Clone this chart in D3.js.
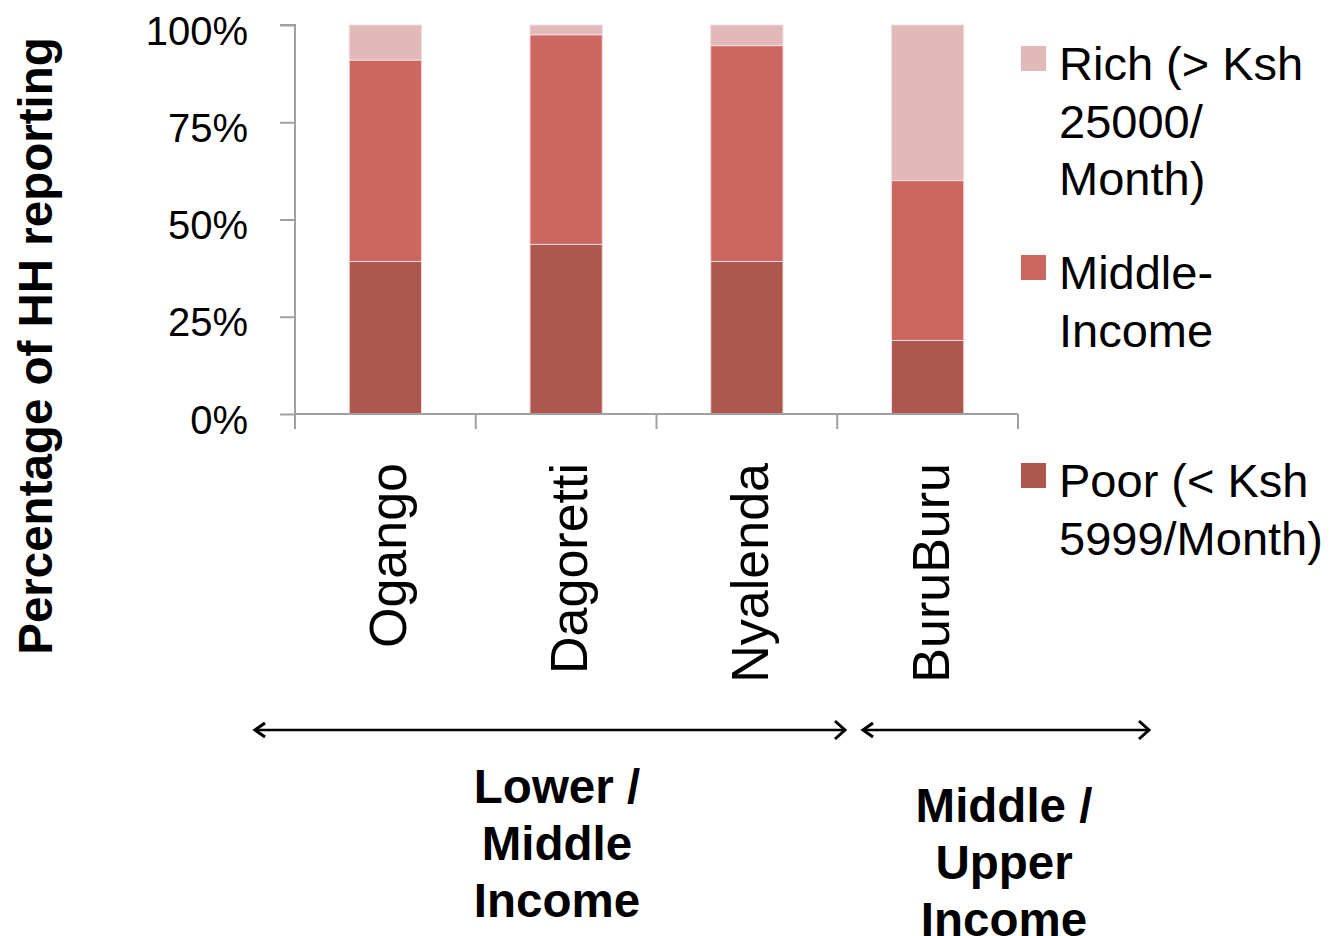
<!DOCTYPE html>
<html>
<head>
<meta charset="utf-8">
<script src="https://cdn.jsdelivr.net/npm/d3@7"></script>
<style>
  body { margin: 0; background: #fff; }
  svg { display: block; font-family: "Liberation Sans", Arial, sans-serif; }
</style>
</head>
<body>
<div id="chart"></div>
<script>
// neighbourhoods along the x axis
const areas = ["Ogango", "Dagoretti", "Nyalenda", "BuruBuru"];
// share of households in each income band (percent)
const poor   = [39.2, 43.6, 39.2, 18.9];
const middle = [51.8, 53.9, 55.5, 41.1];
const rich   = [9.0, 2.5, 5.3, 40.0];
const yTicks = [0, 25, 50, 75, 100];

const seriesKeys = ["poor", "middle", "rich"];
const colors = { poor: "#ae574f", middle: "#cc6660", rich: "#e1b9b8" };
const legendItems = [
  { key: "rich", lines: ["Rich (> Ksh", "25000/", "Month)"] },
  { key: "middle", lines: ["Middle-", "Income"] },
  { key: "poor", lines: ["Poor (< Ksh", "5999/Month)"] }
];
const groups = [
  { from: 255, to: 845, lines: ["Lower /", "Middle", "Income"] },
  { from: 863, to: 1149, lines: ["Middle /", "Upper", "Income"] }
];

const W = 1333, H = 936;
const svg = d3.select("#chart").append("svg").attr("width", W).attr("height", H);

const rows = areas.map((a, i) => ({ area: a, poor: poor[i], middle: middle[i], rich: rich[i] }));
const stacked = d3.stack().keys(seriesKeys)(rows);

const x = d3.scaleBand().domain(areas).range([295, 1018]).paddingInner(0.6).paddingOuter(0.3);
const y = d3.scaleLinear().domain([0, 100]).range([414, 25]);

// bars
svg.append("g").selectAll("g")
  .data(stacked)
  .join("g")
  .attr("fill", d => colors[d.key])
  .selectAll("rect")
  .data(d => d)
  .join("rect")
  .attr("x", d => x(d.data.area))
  .attr("width", x.bandwidth())
  .attr("y", d => y(d[1]))
  .attr("height", d => y(d[0]) - y(d[1]))
  .attr("stroke", "#f3dcdc")
  .attr("stroke-width", 1);

// y axis
const yAxis = svg.append("g")
  .attr("transform", "translate(295,0)")
  .call(d3.axisLeft(y).tickValues(yTicks).tickSize(15).tickFormat(d => d + "%"));
yAxis.select(".domain").attr("stroke", "#a0a0a0").attr("stroke-width", 2)
  .attr("d", "M-15,25H0V429");
yAxis.selectAll(".tick line").attr("stroke", "#a0a0a0").attr("stroke-width", 2);
yAxis.selectAll(".tick text")
  .attr("x", -47).attr("dy", "0.48em")
  .style("font-size", "40px").style("fill", "#000")
  .style("font-family", "'Liberation Sans', Arial, sans-serif");

// x axis: ticks between categories
const xEdges = d3.range(areas.length + 1).map(i => 295 + i * x.step());
const xAxis = svg.append("g").attr("transform", "translate(0,414)");
xAxis.append("line").attr("x1", 295).attr("x2", 1018).attr("stroke", "#a0a0a0").attr("stroke-width", 2);
xAxis.selectAll("line.tk").data(xEdges).join("line").attr("class", "tk")
  .attr("x1", d => d).attr("x2", d => d).attr("y1", 0).attr("y2", 15)
  .attr("stroke", "#a0a0a0").attr("stroke-width", 2);

// category labels, rotated
svg.append("g").selectAll("text")
  .data(areas)
  .join("text")
  .attr("transform", d => `translate(${x(d) + x.bandwidth() / 2 + 21},463) rotate(-90)`)
  .attr("text-anchor", "end")
  .style("font-size", "52px")
  .text(d => d);

// y axis title
svg.append("text")
  .attr("transform", "translate(52,346) rotate(-90)")
  .attr("text-anchor", "middle")
  .style("font-size", "47.5px").style("font-weight", "bold")
  .text("Percentage of HH reporting");

// legend
const legendTop = { rich: 46, middle: 255, poor: 463 };
const lg = svg.append("g").selectAll("g").data(legendItems).join("g")
  .attr("transform", d => `translate(1021,${legendTop[d.key]})`);
lg.append("rect").attr("width", 25).attr("height", 25).attr("fill", d => colors[d.key]);
lg.append("text")
  .style("font-size", "47px")
  .selectAll("tspan").data(d => d.lines).join("tspan")
  .attr("x", 38).attr("y", (d, i) => 34 + i * 57.5)
  .text(d => d);

// group arrows and labels
const arrowY = 730;
const gg = svg.append("g").selectAll("g").data(groups).join("g");
gg.append("line")
  .attr("x1", d => d.from + 2).attr("x2", d => d.to - 2)
  .attr("y1", arrowY).attr("y2", arrowY)
  .attr("stroke", "#000").attr("stroke-width", 2.5);
gg.append("path")
  .attr("d", d => `M${d.from + 10},${arrowY - 7}L${d.from},${arrowY}L${d.from + 10},${arrowY + 7}`)
  .attr("fill", "none").attr("stroke", "#000").attr("stroke-width", 3);
gg.append("path")
  .attr("d", d => `M${d.to - 10},${arrowY - 9}L${d.to},${arrowY}L${d.to - 10},${arrowY + 9}`)
  .attr("fill", "none").attr("stroke", "#000").attr("stroke-width", 3);
gg.append("text")
  .attr("text-anchor", "middle")
  .style("font-size", "47.5px").style("font-weight", "bold")
  .selectAll("tspan").data((d, i) => d.lines.map(l => ({ l, i, cx: i === 0 ? 557 : 1004 }))).join("tspan")
  .attr("x", d => d.cx)
  .attr("y", (d, j) => (d.i === 0 ? 803 : 822) + j * 57)
  .text(d => d.l);
</script>
</body>
</html>
